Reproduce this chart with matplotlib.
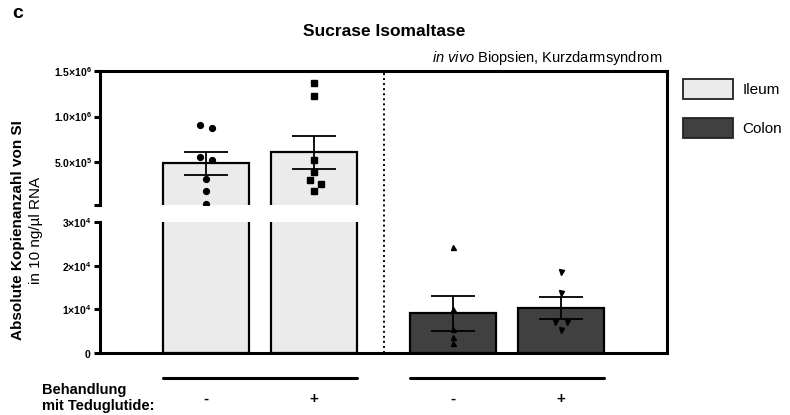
import numpy as np
import matplotlib
matplotlib.use("Agg")
import matplotlib.pyplot as plt
from matplotlib.patches import Patch
from matplotlib.lines import Line2D

plt.rcParams['font.family'] = ['Liberation Sans', 'DejaVu Sans']
plt.rcParams['mathtext.fontset'] = 'custom'
plt.rcParams['mathtext.it'] = 'Liberation Sans:italic'
plt.rcParams['mathtext.rm'] = 'Liberation Sans'
plt.rcParams['mathtext.bf'] = 'Liberation Sans:bold'

# Daten
groups = ['Ileum', 'Colon']
treatment = ['-', '+', '-', '+']
ileum_minus = [9.07e5, 8.70e5, 5.55e5, 5.25e5, 3.13e5, 1.89e5, 4.2e4]
ileum_plus = [1.368e6, 1.229e6, 5.25e5, 3.90e5, 3.06e5, 2.58e5, 1.85e5]
colon_minus = [2.42e4, 1.01e4, 5.5e3, 3.7e3, 2.2e3]
colon_plus = [1.86e4, 1.37e4, 7.1e3, 7.1e3, 5.3e3]

upper_ticks = [3e4, 5e5, 1e6, 1.5e6]
upper_labels = ['', r'$\mathbf{5.0{\times}10^{5}}$', r'$\mathbf{1.0{\times}10^{6}}$',
                r'$\mathbf{1.5{\times}10^{6}}$']
lower_ticks = [0, 1e4, 2e4, 3e4]
lower_labels = [r'$\mathbf{0}$', r'$\mathbf{1{\times}10^{4}}$', r'$\mathbf{2{\times}10^{4}}$',
                r'$\mathbf{3{\times}10^{4}}$']

# Layout
series = [ileum_minus, ileum_plus, colon_minus, colon_plus]
pos = [0, 1, 2.29, 3.29]
jitter = [[-0.053, 0.053, -0.053, 0.053, 0, 0, 0],
          [0, 0, 0, 0, -0.04, 0.062, 0],
          [0, 0, 0, 0, 0],
          [0, 0, -0.053, 0.053, 0]]
markers = ['o', 's', '^', 'v']
msizes = [4.2, 4.0, 3.6, 3.6]
colors = ['#ebebeb', '#ebebeb', '#404040', '#404040']

means = [np.mean(s) for s in series]
sems = [np.std(s, ddof=1) / np.sqrt(len(s)) for s in series]

fig = plt.figure(figsize=(7.9, 4.15), dpi=100)
ax_top = fig.add_axes([0.1266, 0.506, 0.7177, 0.323])
ax_bot = fig.add_axes([0.1266, 0.1494, 0.7177, 0.3157])

spine_lw = 2.2
for ax, idx in ((ax_top, [0, 1]), (ax_bot, [0, 1, 2, 3])):
    ax.bar([pos[i] for i in idx], [means[i] for i in idx], width=0.8,
           color=[colors[i] for i in idx], edgecolor='black', linewidth=1.6, zorder=2)
    ax.errorbar([pos[i] for i in idx], [means[i] for i in idx], yerr=[sems[i] for i in idx],
                fmt='none', ecolor='black', elinewidth=1.3, capsize=16, capthick=1.3, zorder=3)
    for i in idx:
        xs = [pos[i] + j for j in jitter[i]]
        ax.plot(xs, series[i], ls='none', marker=markers[i], ms=msizes[i], color='black', zorder=4)
    ax.set_xlim(-0.98, 4.27)
    ax.set_xticks([])
    ax.spines['right'].set_visible(False)
    ax.spines['left'].set_linewidth(spine_lw)
    ax.tick_params(axis='y', direction='out', length=4, width=spine_lw, pad=2)

ax_top.set_ylim(3e4, 1.5e6)
ax_top.spines['bottom'].set_visible(False)
ax_top.spines['top'].set_linewidth(spine_lw)
ax_top.set_yticks(upper_ticks, upper_labels, fontsize=7.5)

ax_bot.set_ylim(0, 3e4)
ax_bot.spines['top'].set_visible(False)
ax_bot.spines['bottom'].set_linewidth(spine_lw)
ax_bot.set_yticks(lower_ticks, lower_labels, fontsize=7.5)

# durchgehende rechte Achse und gepunktete Trennlinie
x_right = 0.1266 + 0.7177
fig.add_artist(Line2D([x_right, x_right], [0.1494, 0.829], color='black', lw=spine_lw,
                      solid_capstyle='projecting'))
x_div = (pos[1] + pos[2]) / 2
xf = fig.transFigure.inverted().transform(ax_top.transData.transform((x_div, 0)))[0]
fig.add_artist(Line2D([xf, xf], [0.1494, 0.829], color='black', lw=1.4, ls=(0, (1, 1.6))))

# Behandlung unten
trans = ax_bot.get_xaxis_transform()
for k in range(2):
    x0 = pos[2 * k] - 0.4
    x1 = pos[2 * k + 1] + 0.4
    ax_bot.plot([x0, x1], [-0.19, -0.19], color='black', lw=2.2, transform=trans,
                clip_on=False, solid_capstyle='round')
for p, t in zip(pos, treatment):
    ax_bot.text(p, -0.35, t, transform=trans, ha='center', va='center',
                fontsize=11, fontweight='bold')
fig.text(42 / 790, 1 - 398 / 415, 'Behandlung\nmit Teduglutide:', ha='left', va='center',
         fontsize=10.5, fontweight='bold', linespacing=1.25)

# Titel
fig.text(384 / 790, 1 - 32 / 415, 'Sucrase Isomaltase', ha='center', va='center',
         fontsize=12.5, fontweight='bold')
fig.text(662 / 790, 1 - 58 / 415, r'$\it{in\ vivo}$ Biopsien, Kurzdarmsyndrom',
         ha='right', va='center', fontsize=10.5)
fig.text(12 / 790, 1 - 14 / 415, 'c', ha='left', va='center', fontsize=14, fontweight='bold')

# y-Beschriftung
fig.text(18.5 / 790, 1 - 230 / 415, 'Absolute Kopienanzahl von SI', rotation=90,
         ha='center', va='center', fontsize=11, fontweight='bold')
fig.text(36 / 790, 1 - 230 / 415, 'in 10 ng/µl RNA', rotation=90,
         ha='center', va='center', fontsize=11)

# Legende
handles = [Patch(facecolor=colors[0], edgecolor='#222222', lw=1.3, label=groups[0]),
           Patch(facecolor=colors[2], edgecolor='#222222', lw=1.3, label=groups[1])]
fig.legend(handles=handles, loc='upper left', bbox_to_anchor=(683 / 790, 1 - 79 / 415),
           frameon=False, fontsize=11, handlelength=3.25, handleheight=1.6,
           labelspacing=1.3, handletextpad=0.65, borderaxespad=0, borderpad=0)

fig.savefig('out.png', dpi=100)
